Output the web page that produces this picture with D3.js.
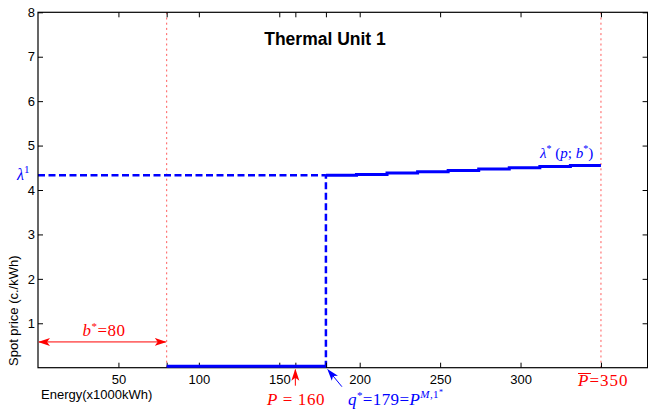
<!DOCTYPE html>
<html>
<head>
<meta charset="utf-8">
<script src="https://cdn.jsdelivr.net/npm/d3@7"></script>
<style>
  body { margin: 0; background: #fff; }
  svg { display: block; font-family: "Liberation Sans", Arial, Helvetica, sans-serif; }
  .math { font-family: "Liberation Serif", "DejaVu Serif", serif; }
</style>
</head>
<body>
<svg width="648" height="409"></svg>
<script>
// data
var stepStarts = [179, 198, 217, 236, 255, 274, 293, 312, 331, 350];
var stepPrices = [4.33, 4.35, 4.38, 4.41, 4.44, 4.47, 4.50, 4.53, 4.55];
var zeroStart = 80, zeroEnd = 179;
var lambda1 = 4.33;
var bStar = 80, pLow = 160, qStar = 179, pMax = 350;
var xTicks = [50, 80, 100, 150, 160, 179, 200, 250, 300, 350];
var xLabeled = [50, 100, 150, 200, 250, 300];
var yTicks = [1, 2, 3, 4, 5, 6, 7, 8];

var svg = d3.select("svg");

var x = d3.scaleLinear().domain([0, 379]).range([38, 647.6]),
    y = d3.scaleLinear().domain([0, 8]).range([367.7, 12.3]);

var defs = svg.append("defs");
function arrowMarker(id, color) {
  defs.append("marker")
      .attr("id", id)
      .attr("viewBox", "0 -5 12 10")
      .attr("refX", 11).attr("refY", 0)
      .attr("markerWidth", 12).attr("markerHeight", 10)
      .attr("markerUnits", "userSpaceOnUse")
      .attr("orient", "auto-start-reverse")
      .append("path")
      .attr("d", "M0,-4L12,0L0,4L3,0Z")
      .attr("fill", color);
}
arrowMarker("arRed", "#ff0000");
arrowMarker("arBlue", "#0000ff");

// red dotted limit lines
svg.selectAll(".limit")
    .data([bStar, pMax])
    .enter().append("line")
    .attr("class", "limit")
    .attr("x1", function (d) { return x(d); })
    .attr("x2", function (d) { return x(d); })
    .attr("y1", y(8)).attr("y2", y(0))
    .attr("stroke", "#ff5a5a")
    .attr("stroke-width", 1)
    .attr("stroke-dasharray", "2,3.2");

// dashed lambda^1 level and jump at q*
var dash = svg.append("g")
    .attr("fill", "none")
    .attr("stroke", "#0000ff")
    .attr("stroke-width", 2.5)
    .attr("stroke-dasharray", "7,3.5");
dash.append("line")
    .attr("x1", x(0)).attr("x2", x(qStar))
    .attr("y1", y(lambda1)).attr("y2", y(lambda1));
dash.append("line")
    .attr("x1", x(qStar)).attr("x2", x(qStar))
    .attr("y1", y(0)).attr("y2", y(lambda1));

// axes (ticks inside, box)
var xAxis = d3.axisBottom(x).tickValues(xTicks).tickSizeInner(-5).tickSizeOuter(0).tickPadding(7)
    .tickFormat(function (d) { return xLabeled.indexOf(d) >= 0 ? d : ""; });
var xAxisTop = d3.axisTop(x).tickValues(xTicks).tickSizeInner(-5).tickSizeOuter(0).tickFormat("");
var yAxis = d3.axisLeft(y).tickValues(yTicks).tickSizeInner(-5).tickSizeOuter(0).tickPadding(3)
    .tickFormat(d3.format("d"));
var yAxisRight = d3.axisRight(y).tickValues(yTicks).tickSizeInner(-5).tickSizeOuter(0).tickFormat("");

function styleAxis(g) {
  g.select(".domain").remove();
  g.selectAll(".tick line").attr("stroke", "#000");
  g.selectAll(".tick text").attr("fill", "#000").style("font-size", "13px")
      .style("font-family", "\"Liberation Sans\", Arial, sans-serif");
}

svg.append("g").attr("transform", "translate(0," + y(0) + ")").call(xAxis).call(styleAxis);
svg.append("g").attr("transform", "translate(0," + y(8) + ")").call(xAxisTop).call(styleAxis);
svg.append("g").attr("transform", "translate(" + x(0) + ",0)").call(yAxis).call(styleAxis);
svg.append("g").attr("transform", "translate(" + x(379) + ",0)").call(yAxisRight).call(styleAxis);

svg.append("rect")
    .attr("x", x(0)).attr("y", y(8))
    .attr("width", x(379) - x(0)).attr("height", y(0) - y(8))
    .attr("fill", "none").attr("stroke", "#000").attr("stroke-width", 1.2);

// solid price curve
var stepPts = stepPrices.map(function (p, i) { return [stepStarts[i], p]; });
stepPts.push([stepStarts[stepStarts.length - 1], stepPrices[stepPrices.length - 1]]);

var line = d3.line()
    .x(function (d) { return x(d[0]); })
    .y(function (d) { return y(d[1]); })
    .curve(d3.curveStepAfter);

svg.append("path")
    .datum(stepPts)
    .attr("d", line)
    .attr("fill", "none").attr("stroke", "#0000ff").attr("stroke-width", 3);

svg.append("path")
    .datum([[zeroStart, 0], [zeroEnd, 0]])
    .attr("d", d3.line().x(function (d) { return x(d[0]); }).y(function (d) { return y(d[1]) - 1.5; }))
    .attr("fill", "none").attr("stroke", "#0000ff").attr("stroke-width", 3);

// title and axis labels
svg.append("text")
    .attr("x", 325).attr("y", 45)
    .attr("text-anchor", "middle")
    .style("font-size", "17.5px").style("font-weight", "bold")
    .text("Thermal Unit 1");

svg.append("text")
    .attr("x", 41).attr("y", 398.5)
    .style("font-size", "13px")
    .text("Energy(x1000kWh)");

svg.append("text")
    .attr("transform", "translate(18,366) rotate(-90)")
    .style("font-size", "13px")
    .text("Spot price (c./kWh)");

// b* double arrow
svg.append("line")
    .attr("x1", x(0) + 1).attr("x2", x(bStar) - 1)
    .attr("y1", y(0.58)).attr("y2", y(0.58))
    .attr("stroke", "#ff0000").attr("stroke-width", 1)
    .attr("marker-start", "url(#arRed)").attr("marker-end", "url(#arRed)");

var bLab = svg.append("text").attr("class", "math")
    .attr("x", 104).attr("y", 336).attr("text-anchor", "middle")
    .attr("fill", "#ff0000").style("font-size", "17px").style("letter-spacing", "0.5px");
bLab.append("tspan").style("font-style", "italic").text("b");
bLab.append("tspan").attr("dy", -6).style("font-size", "11px").text("*");
bLab.append("tspan").attr("dy", 6).text("=80");

// P = 160 arrow
svg.append("line")
    .attr("x1", x(pLow)).attr("x2", x(pLow))
    .attr("y1", y(0) + 18).attr("y2", y(0) + 2)
    .attr("stroke", "#ff0000").attr("stroke-width", 1)
    .attr("marker-end", "url(#arRed)");

var pLab = svg.append("text").attr("class", "math")
    .attr("x", 267).attr("y", 405)
    .attr("fill", "#ff0000").style("font-size", "17px").style("letter-spacing", "0.6px");
pLab.append("tspan").style("font-style", "italic").text("P");
pLab.append("tspan").text(" = 160");

// q* arrow
svg.append("line")
    .attr("x1", x(qStar) + 16).attr("x2", x(qStar) + 2)
    .attr("y1", y(0) + 19).attr("y2", y(0) + 2)
    .attr("stroke", "#0000ff").attr("stroke-width", 1)
    .attr("marker-end", "url(#arBlue)");

var qLab = svg.append("text").attr("class", "math")
    .attr("x", 348).attr("y", 405)
    .attr("fill", "#0000ff").style("font-size", "17px").style("letter-spacing", "0.4px");
qLab.append("tspan").style("font-style", "italic").text("q");
qLab.append("tspan").attr("dy", -6).style("font-size", "11px").text("*");
qLab.append("tspan").attr("dy", 6).text("=179=");
qLab.append("tspan").style("font-style", "italic").text("P");
qLab.append("tspan").attr("dy", -7).style("font-size", "11px").style("font-style", "italic").text("M");
qLab.append("tspan").style("font-size", "11px").text(",1");
qLab.append("tspan").attr("dy", -3).style("font-size", "8px").text("*");

// P-bar = 350
var pmLab = svg.append("text").attr("class", "math")
    .attr("x", 578).attr("y", 386)
    .attr("fill", "#ff0000").style("font-size", "17px").style("letter-spacing", "1px");
pmLab.append("tspan").style("font-style", "italic").text("P");
pmLab.append("tspan").text("=350");
svg.append("line")
    .attr("x1", 578).attr("x2", 591)
    .attr("y1", 373.5).attr("y2", 373.5)
    .attr("stroke", "#ff0000").attr("stroke-width", 1);

// lambda^1 label
var l1 = svg.append("text").attr("class", "math")
    .attr("x", 17).attr("y", 180)
    .attr("fill", "#0000ff").style("font-size", "16px");
l1.append("tspan").style("font-style", "italic").text("λ");
l1.append("tspan").attr("dy", -7).style("font-size", "11px").text("1");

// lambda*(p;b*) label
var ls = svg.append("text").attr("class", "math")
    .attr("x", 540).attr("y", 158)
    .attr("fill", "#0000ff").style("font-size", "15px");
ls.append("tspan").style("font-style", "italic").text("λ");
ls.append("tspan").attr("dy", -6).style("font-size", "10px").text("*");
ls.append("tspan").attr("dy", 6).text(" (");
ls.append("tspan").style("font-style", "italic").text("p");
ls.append("tspan").text("; ");
ls.append("tspan").style("font-style", "italic").text("b");
ls.append("tspan").attr("dy", -6).style("font-size", "10px").text("*");
ls.append("tspan").attr("dy", 6).text(")");
</script>
</body>
</html>
